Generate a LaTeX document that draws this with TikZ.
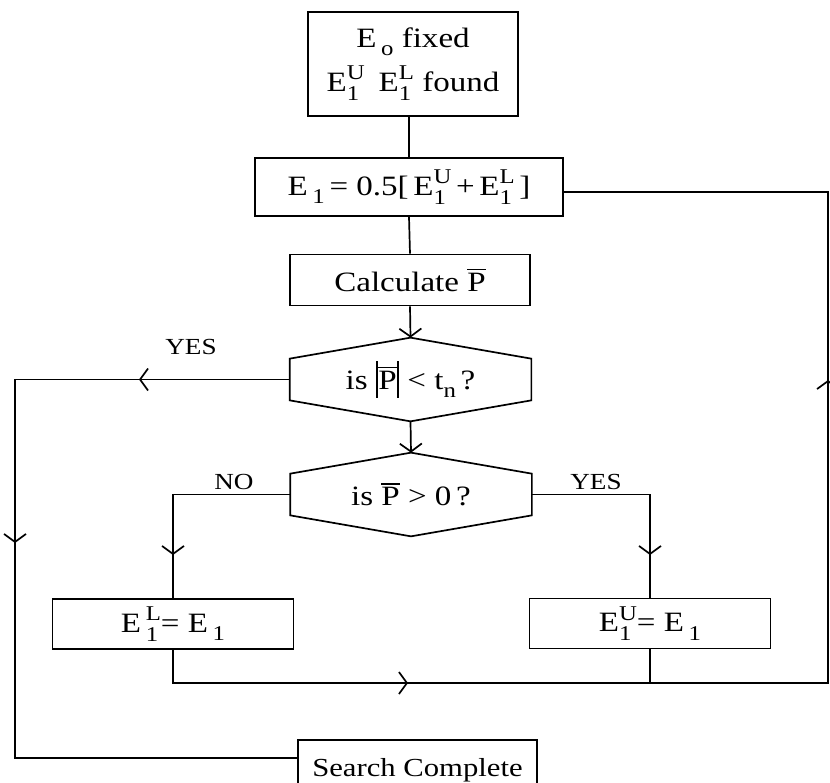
\documentclass[tikz,border=0pt]{standalone}
\usepackage{fontspec}
\setmainfont[FakeStretch=1.18]{Liberation Serif}
\usetikzlibrary{arrows.meta,calc}
\newcommand{\mainf}{\fontsize{28}{44}\selectfont}
\newcommand{\labf}{\fontsize{23}{24}\selectfont}
\newcommand{\smf}{\fontsize{21}{21}\selectfont}
\newcommand{\lo}[1]{\raisebox{-0.3em}{\smf #1}}
\newcommand{\ud}[2]{\rlap{\raisebox{-0.32em}{\smf #2}}\raisebox{0.42em}{\smf #1}}
\newcommand{\Pb}{\vbox{\hrule height 1.8pt\kern 2.5pt\hbox{P}}}
\newcommand{\abar}{\rule[-0.3em]{2.4pt}{1.3em}}
\newcommand{\hexframe}[1]{\draw (#1.north) -- ([yshift=-21pt]#1.north east) -- ([yshift=21pt]#1.south east) -- (#1.south) -- ([yshift=21pt]#1.south west) -- ([yshift=-21pt]#1.north west) -- cycle;}
\begin{document}
\begin{tikzpicture}[x=1pt,y=-1pt, line width=1.7pt,
  box/.style={draw, rectangle, inner sep=0pt, align=center, font=\mainf},
  hexn/.style={inner sep=0pt, font=\mainf, minimum width=240pt, minimum height=82pt},
  lab/.style={font=\labf, inner sep=0pt},
  >={Straight Barb[length=8pt,width=22pt]}]
\useasboundingbox (0,0) rectangle (830,782);
% nodes
\node[box, minimum width=210pt, minimum height=104pt] (top) at (413,64)
  {E\,\lo{o} fixed\\ E\ud{U}{1}\enspace E\ud{L}{1} found};
\node[box, minimum width=308pt, minimum height=58pt] (e1) at (409,187)
  {E\,\lo{1}\,= 0.5[\,E\ud{U}{1}\,+\,E\ud{L}{1}\,]};
\node[box, minimum width=240pt, minimum height=51pt] (calc) at (410,280)
  {Calculate \Pb};
\node[hexn] (h1) at (410.5,379.5) {is \abar\Pb\abar\ < t\lo{n}\,?};
\hexframe{h1}
\node[hexn] (h2) at (411,494.5) {is \Pb\ > 0\,?};
\hexframe{h2}
\node[box, minimum width=241pt, minimum height=50pt] (bL) at (173,624)
  {E\,\ud{L}{1}= E\,\lo{1}};
\node[box, minimum width=241pt, minimum height=50pt] (bR) at (650,623.5)
  {E\ud{U}{1}= E\,\lo{1}};
\node[box, minimum width=239pt, minimum height=60pt, font=\fontsize{26}{30}\selectfont] (search) at (417.5,770)
  {Search Complete};
% labels
\node[lab] (yes1) at (191,347) {YES};
\node[lab] (no) at (234,482) {NO};
\node[lab] (yes2) at (596,482) {YES};
% coordinates
\coordinate (cL1) at (15,379.5);
\coordinate (aY1) at (139,379.5);
\coordinate (aL) at (15,543);
\coordinate (cL2) at (15,758);
\coordinate (cN) at (173,494.5);
\coordinate (aN) at (173,555);
\coordinate (cY) at (650,494.5);
\coordinate (aYR) at (650,555);
\coordinate (cB1) at (173,683);
\coordinate (aB) at (408,683);
\coordinate (cB2) at (828,683);
\coordinate (aR) at (828,380);
\coordinate (cR) at (828,192);
% connectors
\draw (top.south -| e1.north) -- (e1.north);
\draw (e1.south) -- (calc.north);
\draw[->] (calc.south) -- (h1.north);
\draw[->] (h1.south) -- (h2.north);
\draw (h1.west) -- (cL1) -- (cL2) -- (cL2 -| search.west);
\draw[->] (h1.west) -- (aY1);
\draw[->] (cL1) -- (aL);
\draw (h2.west) -- (cN) -- (bL.north);
\draw[->] (cN) -- (aN);
\draw (h2.east) -- (cY) -- (bR.north);
\draw[->] (cY) -- (aYR);
\draw (bL.south) -- (cB1) -- (cB2) -- (cR) -- (cR -| e1.east);
\draw[->] (cB1) -- (aB);
\draw[->] (cB2) -- (aR);
\draw (bR.south) -- (bR.south |- cB1);
\end{tikzpicture}
\end{document}
